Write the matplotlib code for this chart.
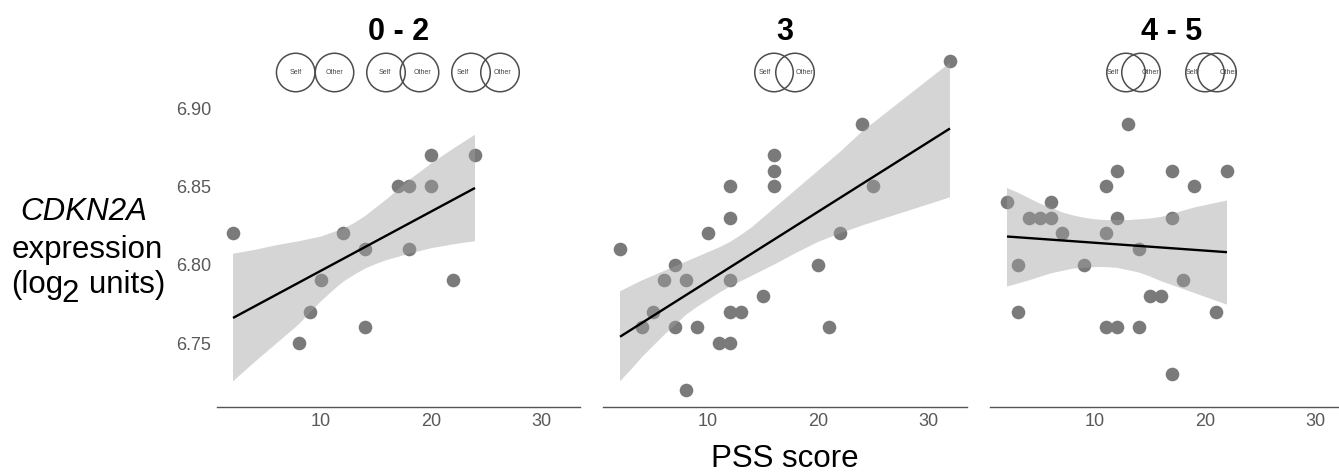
import matplotlib
matplotlib.use("Agg")
import matplotlib.pyplot as plt
from matplotlib.patches import Ellipse

plt.rcParams['font.family'] = ['Liberation Sans', 'DejaVu Sans']

W, H = 1339, 472

# Panel titles
titles = ["0 - 2", "3", "4 - 5"]

# Panel 1
x1 = [2, 8, 9, 10, 12, 14, 14, 17, 18, 18, 20, 20, 22, 24]
y1 = [6.82, 6.75, 6.77, 6.79, 6.82, 6.81, 6.76, 6.85, 6.85, 6.81, 6.87, 6.85, 6.79, 6.87]
line1_x = [2, 24]
line1_y = [6.766, 6.849]
up1_x = [2, 4, 6, 8, 10, 11, 12, 13, 14, 15, 16, 17, 18, 20, 22, 24]
up1_y = [6.807, 6.8095, 6.8125, 6.815, 6.818, 6.8205, 6.823, 6.8265, 6.831, 6.8365, 6.842, 6.848, 6.854,
         6.8645, 6.874, 6.883]
lo1_x = [2, 4, 6, 8, 9, 10, 11, 12, 13, 14, 15, 16, 18, 20, 22, 24]
lo1_y = [6.7255, 6.738, 6.750, 6.762, 6.7695, 6.7766, 6.783, 6.789, 6.7935, 6.7975, 6.8005, 6.803, 6.807,
         6.8105, 6.813, 6.815]

# Panel 2
x2 = [2, 4, 5, 6, 7, 7, 8, 8, 9, 10, 11, 12, 12, 12, 12, 12, 13, 15, 16, 16, 16, 20, 21, 22, 24, 25, 32]
y2 = [6.81, 6.76, 6.77, 6.79, 6.80, 6.76, 6.79, 6.72, 6.76, 6.82, 6.75, 6.85, 6.83, 6.79, 6.77, 6.75,
      6.77, 6.78, 6.87, 6.86, 6.85, 6.80, 6.76, 6.82, 6.89, 6.85, 6.93]
line2_x = [2, 32]
line2_y = [6.754, 6.887]
up2_x = [2, 4, 6, 8, 10, 11, 12, 13, 14, 15, 16, 18, 20, 22, 24, 26, 28, 30, 32]
up2_y = [6.783, 6.790, 6.796, 6.802, 6.808, 6.811, 6.8145, 6.819, 6.824, 6.830, 6.836, 6.848, 6.860, 6.872,
         6.885, 6.896, 6.907, 6.918, 6.929]
lo2_x = [2, 3, 4, 5, 6, 7, 8, 9, 10, 11, 12, 14, 16, 18, 20, 22, 24, 28, 32]
lo2_y = [6.7255, 6.733, 6.741, 6.748, 6.755, 6.7615, 6.768, 6.773, 6.7775, 6.782, 6.786, 6.793, 6.800,
         6.8075, 6.8145, 6.820, 6.825, 6.834, 6.843]

# Panel 3
x3 = [2, 3, 3, 4, 5, 6, 6, 7, 9, 11, 11, 11, 12, 12, 12, 13, 14, 14, 15, 16, 17, 17, 17, 18, 19, 21, 22]
y3 = [6.84, 6.80, 6.77, 6.83, 6.83, 6.84, 6.83, 6.82, 6.80, 6.85, 6.82, 6.76, 6.86, 6.83, 6.76, 6.89,
      6.81, 6.76, 6.78, 6.78, 6.86, 6.83, 6.73, 6.79, 6.85, 6.77, 6.86]
line3_x = [2, 22]
line3_y = [6.818, 6.808]
up3_x = [2, 3, 4, 5, 6, 7, 8, 9, 10, 11, 12, 13, 14, 15, 16, 17, 18, 19, 20, 21, 22]
up3_y = [6.849, 6.846, 6.8425, 6.839, 6.8365, 6.8335, 6.8315, 6.830, 6.829, 6.8285, 6.8285, 6.8285, 6.829,
         6.8295, 6.8305, 6.8325, 6.8345, 6.8365, 6.838, 6.8395, 6.841]
lo3_x = [2, 4, 6, 8, 10, 11, 12, 13, 14, 15, 16, 18, 20, 22]
lo3_y = [6.786, 6.790, 6.7945, 6.7975, 6.7985, 6.7985, 6.798, 6.7965, 6.795, 6.7925, 6.7895, 6.7845, 6.7795,
         6.7745]

xticks = [10, 20, 30]
yticks = [6.75, 6.80, 6.85, 6.90]

panels = [
    dict(x=x1, y=y1, lx=line1_x, ly=line1_y, ux=up1_x, uy=up1_y, dx=lo1_x, dy=lo1_y,
         left=217, right=580, x10=321),
    dict(x=x2, y=y2, lx=line2_x, ly=line2_y, ux=up2_x, uy=up2_y, dx=lo2_x, dy=lo2_y,
         left=603, right=967, x10=708),
    dict(x=x3, y=y3, lx=line3_x, ly=line3_y, ux=up3_x, uy=up3_y, dx=lo3_x, dy=lo3_y,
         left=990, right=1339, x10=1095),
]

fig = plt.figure(figsize=(W / 100, H / 100), dpi=100, facecolor='white')

BOTTOM, TOP = 406.5, 50
PX_PER_X = 11.0
PX_PER_Y = 1566.0
Y_AT_BOTTOM = 6.75 - (BOTTOM - 343) / PX_PER_Y
Y_AT_TOP = 6.75 + (343 - TOP) / PX_PER_Y

TICK_COLOR = '#595959'
for i, p in enumerate(panels):
    ax = fig.add_axes([p['left'] / W, 1 - BOTTOM / H, (p['right'] - p['left']) / W, (BOTTOM - TOP) / H])
    ax.patch.set_alpha(0)
    ax.set_xlim(10 - (p['x10'] - p['left']) / PX_PER_X, 10 + (p['right'] - p['x10']) / PX_PER_X)
    ax.set_ylim(Y_AT_BOTTOM, Y_AT_TOP)
    ax.scatter(p['x'], p['y'], s=96, color='#7a7a7a', linewidths=0, zorder=2, clip_on=False)
    ax.fill(p['ux'] + p['dx'][::-1], p['uy'] + p['dy'][::-1], color='#a1a1a1', alpha=0.44,
            linewidth=0, zorder=3)
    ax.plot(p['lx'], p['ly'], color='black', lw=1.7, zorder=4, solid_capstyle='butt')
    for s in ['top', 'right', 'left']:
        ax.spines[s].set_visible(False)
    ax.spines['bottom'].set_color('#555555')
    ax.spines['bottom'].set_linewidth(1.0)
    ax.set_xticks(xticks)
    ax.set_xticklabels([str(t) for t in xticks], fontsize=13, color=TICK_COLOR)
    ax.tick_params(axis='x', length=0, pad=5)
    if i == 0:
        ax.set_yticks(yticks)
        ax.set_yticklabels(['%.2f' % t for t in yticks], fontsize=13, color=TICK_COLOR)
        ax.tick_params(axis='y', length=0, pad=4)
    else:
        ax.set_yticks([])

# Overlay in pixel coordinates for titles, Venn icons and outer labels
ov = fig.add_axes([0, 0, 1, 1], zorder=10)
ov.set_xlim(0, W)
ov.set_ylim(H, 0)
ov.axis('off')
ov.patch.set_alpha(0)

title_x = [399, 785, 1172]
for t, tx in zip(titles, title_x):
    ov.text(tx, 32, t, ha='center', va='center', fontsize=22, fontweight='bold', color='black')

venn_self_x = [295.7, 386, 471, 774, 1126, 1205]
venn_other_x = [334.5, 419.5, 500, 795, 1141, 1217]
venn_self_label_x = [296, 385, 463, 765, 1113, 1192]
venn_other_label_x = [334, 423, 503, 804, 1150, 1229]
VENN_Y = 72.5
for sx, ox, slx, olx in zip(venn_self_x, venn_other_x, venn_self_label_x, venn_other_label_x):
    for cx in (sx, ox):
        ov.add_patch(Ellipse((cx, VENN_Y), 38.5, 38.5, fill=False, edgecolor='#4d4d4d', linewidth=1.1))
    ov.text(slx, VENN_Y, 'Self', ha='center', va='center', fontsize=5, color='#444444')
    ov.text(olx, VENN_Y, 'Other', ha='center', va='center', fontsize=5, color='#444444')

LABEL = 22.5
ov.text(84, 212, 'CDKN2A', ha='center', va='center', fontsize=LABEL, style='italic', color='black')
ov.text(87, 250, 'expression', ha='center', va='center', fontsize=LABEL, color='black')
ov.text(11, 285, '(log', ha='left', va='center', fontsize=LABEL, color='black')
ov.text(61, 294, '2', ha='left', va='center', fontsize=LABEL, color='black')
ov.text(89, 285, 'units)', ha='left', va='center', fontsize=LABEL, color='black')
ov.text(785, 459, 'PSS score', ha='center', va='center', fontsize=LABEL, color='black')

fig.savefig('out.png', dpi=100, facecolor='white')
